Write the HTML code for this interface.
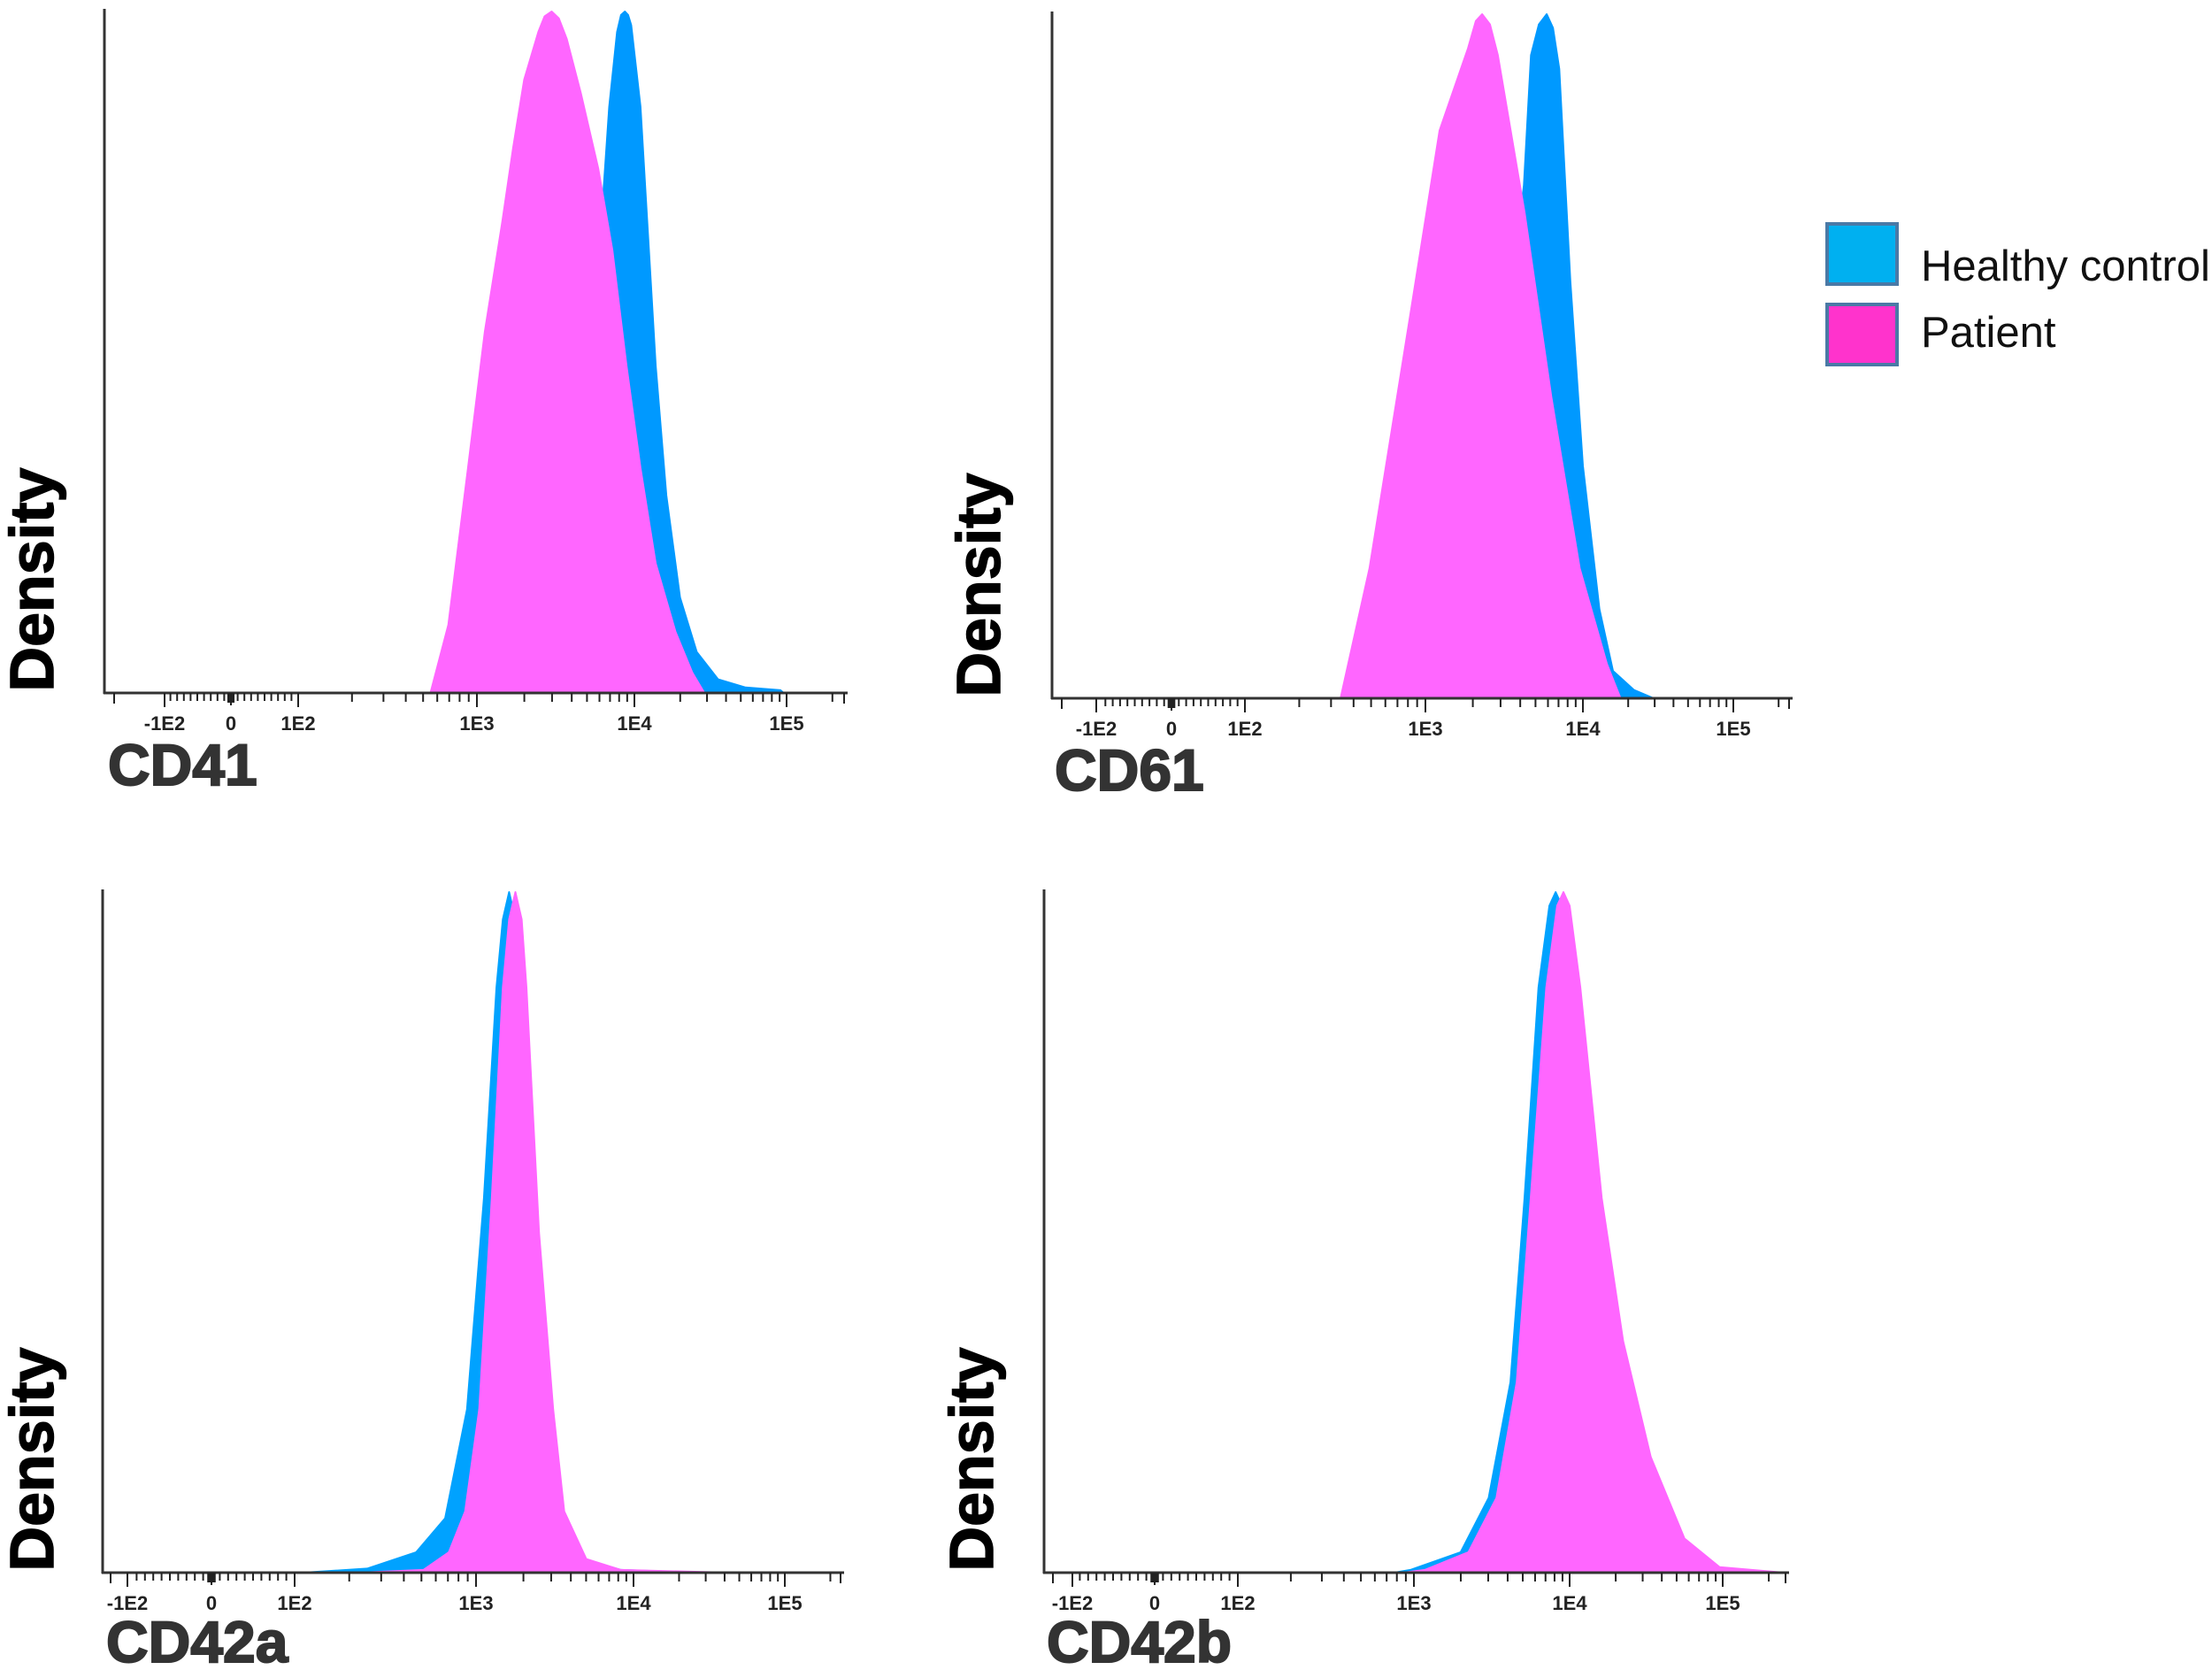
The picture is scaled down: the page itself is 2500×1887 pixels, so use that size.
<!DOCTYPE html>
<html><head><meta charset="utf-8">
<style>
html,body{margin:0;padding:0;background:#fff;}
body{width:2500px;height:1887px;overflow:hidden;}
svg{display:block;}
text{font-family:"Liberation Sans",Arial,sans-serif;}
</style></head>
<body>
<svg id="fig" width="2500" height="1887" viewBox="0 0 2500 1887" xmlns="http://www.w3.org/2000/svg">
  <g id="legend">
    <g>
      <rect x="2065" y="253" width="79" height="68" fill="#00b0f0" stroke="#4a79a6" stroke-width="4"/>
      <text x="2171" y="317" font-size="49" fill="#111">Healthy control</text>
    </g>
    <g>
      <rect x="2065" y="344" width="79" height="68" fill="#ff33cc" stroke="#4a79a6" stroke-width="4"/>
      <text x="2171" y="392" font-size="49" fill="#111">Patient</text>
    </g>
  </g>
</svg>
<script>
// ---- data (log10 of fluorescence, normalized density) ----
const cd41PatientX  = [2.74,2.84,2.95,3.05,3.16,3.23,3.30,3.39,3.43,3.475,3.52,3.57,3.66,3.77,3.86,3.95,4.04,4.14,4.27,4.38,4.46];
const cd41PatientY  = [0,0.10,0.33,0.53,0.69,0.80,0.90,0.97,0.993,1.0,0.99,0.96,0.88,0.77,0.65,0.48,0.33,0.19,0.09,0.03,0];
const cd41ControlX  = [3.3,3.5,3.7,3.79,3.84,3.89,3.915,3.94,3.96,3.98,4.04,4.09,4.14,4.21,4.30,4.41,4.55,4.73,4.96,4.98];
const cd41ControlY  = [0,0.2,0.5,0.69,0.86,0.97,0.995,1.0,0.995,0.98,0.86,0.67,0.48,0.29,0.14,0.06,0.02,0.008,0.004,0];

const cd61PatientX  = [2.53,2.69,2.91,3.09,3.27,3.32,3.36,3.41,3.46,3.63,3.80,3.98,4.16,4.25];
const cd61PatientY  = [0,0.19,0.55,0.83,0.95,0.99,1.0,0.985,0.94,0.71,0.44,0.19,0.05,0];
const cd61ControlX  = [3.0,3.3,3.5,3.625,3.67,3.72,3.77,3.81,3.85,3.92,4.0,4.11,4.2,4.34,4.47];
const cd61ControlY  = [0,0.2,0.5,0.75,0.94,0.985,1.0,0.98,0.92,0.61,0.34,0.13,0.04,0.012,0];

const cd42aPatientX = [2.36,2.71,2.85,2.94,3.02,3.10,3.17,3.21,3.25,3.29,3.32,3.40,3.49,3.56,3.70,3.92,4.63];
const cd42aPatientY = [0,0.004,0.03,0.09,0.24,0.55,0.86,0.96,1.0,0.96,0.86,0.5,0.24,0.09,0.02,0.004,0];
const cd42aControlX = [2.05,2.40,2.67,2.83,2.95,3.05,3.13,3.17,3.21,3.25,3.29,3.38,3.47,3.54,3.68,3.92,4.45];
const cd42aControlY = [0,0.006,0.03,0.08,0.24,0.55,0.86,0.96,1.0,0.96,0.86,0.5,0.24,0.09,0.02,0.004,0];

const cd42bPatientX = [2.94,3.07,3.35,3.53,3.66,3.75,3.85,3.92,3.96,4.0,4.07,4.21,4.35,4.53,4.75,4.98,5.4];
const cd42bPatientY = [0,0.004,0.03,0.11,0.28,0.55,0.86,0.98,1.0,0.98,0.86,0.55,0.34,0.17,0.05,0.008,0];
const cd42bControlX = [2.89,2.98,3.3,3.48,3.62,3.71,3.8,3.87,3.91,3.95,4.03,4.16,4.3,4.48,4.7,4.93,5.33];
const cd42bControlY = [0,0.004,0.03,0.11,0.28,0.55,0.86,0.98,1.0,0.98,0.86,0.55,0.34,0.17,0.05,0.008,0];

const tickLabels = ["-1E2","0","1E2","1E3","1E4","1E5"];
const panelTitles = ["CD41","CD61","CD42a","CD42b"];

// ---- layout ----
const panels = [
  {yax:118, top:10, base:783, start:129, pos:[186,261,337,539,717,889], end:958, titleX:122, titleY:887, densX:35,  px:cd41PatientX, py:cd41PatientY, cx:cd41ControlX, cy:cd41ControlY, blue:"#0099ff", pink:"#ff66ff"},
  {yax:1189,top:13, base:789, start:1200,pos:[1239,1324,1407,1611,1789,1959], end:2026, titleX:1192, titleY:893, densX:1105, px:cd61PatientX, py:cd61PatientY, cx:cd61ControlX, cy:cd61ControlY, blue:"#0099ff", pink:"#ff66ff"},
  {yax:116, top:1005, base:1777, start:125, pos:[144,239,333,538,716,887], end:954, titleX:120, titleY:1878, densX:35, px:cd42aPatientX, py:cd42aPatientY, cx:cd42aControlX, cy:cd42aControlY, blue:"#00a2ff", pink:"#ff66ff"},
  {yax:1180,top:1005, base:1777, start:1190,pos:[1212,1305,1399,1598,1774,1947], end:2022, titleX:1183, titleY:1878, densX:1097, px:cd42bPatientX, py:cd42bPatientY, cx:cd42bControlX, cy:cd42bControlY, blue:"#00a2ff", pink:"#ff66ff"}
];
const NS = "http://www.w3.org/2000/svg";
const svg = document.getElementById("fig");
function mk(tag, attrs, parent){ const e=document.createElementNS(NS,tag); for(const k in attrs) e.setAttribute(k,attrs[k]); parent.appendChild(e); return e; }

function xScale(p, L){
  const P=p.pos;
  if(L<=3) return P[2]+(L-2)*(P[3]-P[2]);
  if(L<=4) return P[3]+(L-3)*(P[4]-P[3]);
  return P[4]+(L-4)*(P[5]-P[4]);
}
function linScale(p, v){ return p.pos[1]+v/100*(p.pos[2]-p.pos[1]); }
function yScale(p, d){ return p.base - d*(p.base-p.top-3); }

function areaPath(p, xs, ys){
  let d = "M"+xScale(p,xs[0]).toFixed(1)+","+p.base;
  for(let i=0;i<xs.length;i++) d += " L"+xScale(p,xs[i]).toFixed(1)+","+yScale(p,ys[i]).toFixed(1);
  d += " L"+xScale(p,xs[xs.length-1]).toFixed(1)+","+p.base+" Z";
  return d;
}

panels.forEach((p, idx)=>{
  const g = mk("g",{},svg);
  
  

  const control = mk("path",{d:areaPath(p,p.cx,p.cy), fill:p.blue, "stroke":p.blue, "stroke-width":2, "stroke-linejoin":"round"},g);
  
  
  const patient = mk("path",{d:areaPath(p,p.px,p.py), fill:p.pink, "stroke":p.pink, "stroke-width":2, "stroke-linejoin":"round"},g);
  
  

  const yAxis = mk("line",{x1:p.yax,y1:p.top,x2:p.yax,y2:p.base+1,stroke:"#333","stroke-width":3},g);
  
  
  const xAxis = mk("line",{x1:p.yax-1,y1:p.base,x2:p.end,y2:p.base,stroke:"#333","stroke-width":3},g);
  
  

  const ticks = mk("g",{stroke:"#222","stroke-width":2},g);
  
  
  const tick=(x,len)=>mk("line",{x1:x,y1:p.base,x2:x,y2:p.base+len},ticks);
  tick(p.start,12);
  for(let v=-90; v<=90; v+=10){ if(v!==0) tick(linScale(p,v),9); }
  for(let v=-4; v<=4; v+=1) tick(linScale(p,v),11);
  [0,2,3,4,5].forEach(i=>tick(p.pos[i],16));
  tick(p.pos[1],14);
  for(let dec=2; dec<=5; dec++){
    for(let m=2;m<=9;m++){
      const x = xScale(p, dec+Math.log10(m));
      if(x<p.end-4) tick(x, 10);
    }
  }
  tick(p.end-4,12);

  tickLabels.forEach((lab,i)=>{
    const t = mk("text",{x:p.pos[i],y:p.base+42,"font-size":22,"font-weight":"bold","text-anchor":"middle",fill:"#222"},g);
    t.textContent = lab;
    
    
  });

  const title = mk("text",{x:p.titleX,y:p.titleY,"font-size":66,"font-weight":"bold",fill:"#333","stroke":"#333","stroke-width":2},g);
  title.textContent = panelTitles[idx];
  
  

  const cy = p.base - 128;
  const dens = mk("text",{x:0,y:0,"font-size":70,"font-weight":"bold",fill:"#000","stroke":"#000","stroke-width":1.5,"text-anchor":"middle",transform:`translate(${p.densX+25},${cy}) rotate(-90)`},g);
  dens.textContent = "Density";
  
  
});
</script>
</body></html>
